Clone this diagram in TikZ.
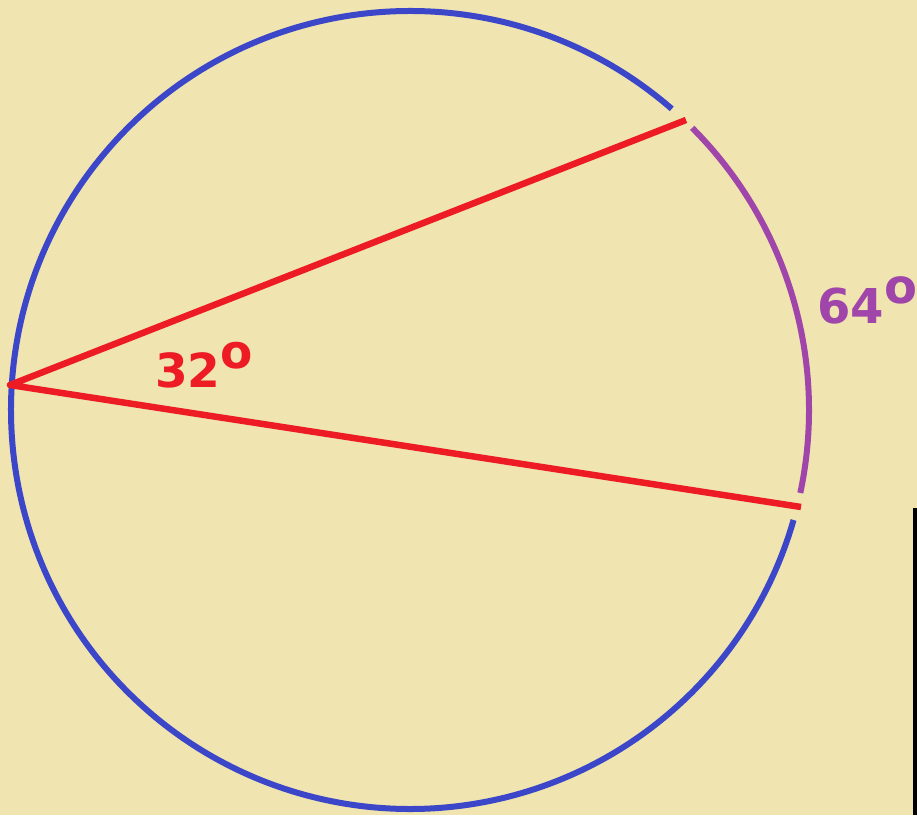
\documentclass[tikz,border=0pt]{standalone}
\usepackage{fontspec}
\setmainfont{DejaVu Sans}
\usetikzlibrary{calc}
\definecolor{bg}{RGB}{240,228,176}
\definecolor{cblue}{RGB}{60,70,200}
\definecolor{cred}{RGB}{237,28,36}
\definecolor{cpurple}{RGB}{160,70,170}
\tikzset{
  circ/.style={line width=6pt, cblue},
  arcp/.style={line width=6pt, cpurple},
  chord/.style={line width=6.5pt, cred, line join=round},
  lbl/.style={inner sep=0pt, anchor=base west}
}
\begin{document}
\begin{tikzpicture}[x=1pt,y=1pt]
\fill[bg] (0,0) rectangle (917,815);
\useasboundingbox (0,0) rectangle (917,815);
\coordinate (O) at (410,405);
% blue circle with gap
\draw[circ] ($(O)+(49:399)$) arc[start angle=49, end angle=344, radius=399];
% purple intercepted arc
\draw[arcp] ($(O)+(-12:399)$) arc[start angle=-12, end angle=45, radius=399];
% chords
\coordinate (A) at (10,430);
\coordinate (B) at (686,695);
\coordinate (C) at (801,308);
\draw[chord] (B) -- (A) -- (C);
% labels
\node[lbl, text=cred, font=\fontsize{47}{47}\selectfont\bfseries] (t32) at (155,428) {32\raisebox{19pt}{o}};
\node[lbl, text=cpurple, font=\fontsize{48}{48}\selectfont\bfseries] (t64) at (817,492) {64\raisebox{20pt}{o}};
% black edge bar
\fill[black] (913,0) rectangle (917,307);
\end{tikzpicture}
\end{document}
